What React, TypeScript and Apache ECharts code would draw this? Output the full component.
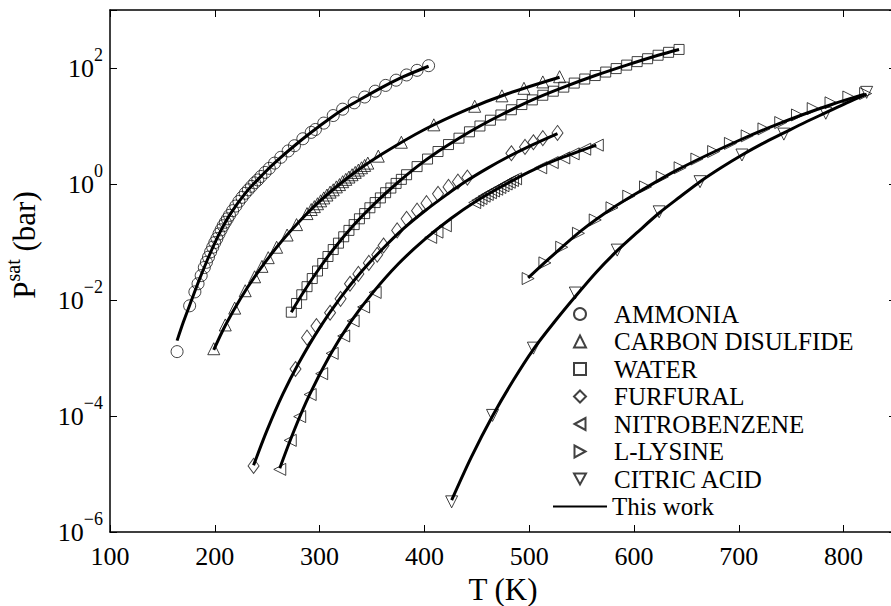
import React, { useEffect, useRef } from 'react';
import * as echarts from 'echarts';

// Read-off values: [T (K), log10(Psat / bar)]
const ammoniaExp = [[164,-2.89],[176,-2.10],[181,-1.86],[184,-1.72],[187,-1.58],[190,-1.44],[192,-1.35],[194,-1.26],[196,-1.17],[198,-1.09],[200,-1.01],[202,-0.94],[204,-0.86],[206,-0.79],[208,-0.72],[210,-0.66],[212,-0.60],[214,-0.54],[217,-0.46],[220,-0.38],[223,-0.30],[226,-0.23],[229,-0.16],[232,-0.10],[235,-0.04],[238,0.02],[241,0.07],[244,0.13],[248,0.20],[252,0.27],[257,0.36],[263,0.46],[270,0.57],[276,0.66],[284,0.78],[292,0.89],[296,0.94],[304,1.05],[313,1.18],[322,1.29],[333,1.40],[343,1.50],[353,1.60],[363,1.70],[373,1.79],[383,1.88],[393,1.96],[404,2.04]];
const ammoniaFit = [[164,-2.70],[170,-2.38],[176,-2.09],[185,-1.66],[195,-1.22],[205,-0.83],[215,-0.51],[230,-0.14],[245,0.15],[260,0.41],[280,0.72],[300,1.00],[320,1.26],[340,1.47],[360,1.67],[380,1.85],[404,2.03]];

const cs2Exp = [[199,-2.84],[210,-2.43],[219,-2.14],[229,-1.84],[238,-1.60],[245,-1.42],[251,-1.27],[259,-1.09],[269,-0.88],[278,-0.70],[288,-0.51],[292,-0.44],[295,-0.39],[298,-0.34],[301,-0.29],[304,-0.24],[307,-0.19],[310,-0.14],[313,-0.10],[316,-0.05],[319,-0.01],[322,0.04],[325,0.08],[328,0.12],[331,0.16],[334,0.20],[337,0.24],[340,0.28],[343,0.32],[346,0.36],[356,0.48],[378,0.72],[409,1.02],[448,1.34],[474,1.52],[495,1.65],[513,1.76],[529,1.85]];
const cs2Fit = [[199,-2.86],[210,-2.44],[225,-1.96],[240,-1.55],[260,-1.07],[280,-0.66],[300,-0.30],[330,0.15],[360,0.52],[400,0.94],[440,1.28],[480,1.56],[529,1.84]];

const waterExp = [[273,-2.21],[278,-2.06],[283,-1.91],[288,-1.77],[293,-1.63],[298,-1.50],[303,-1.37],[308,-1.25],[313,-1.13],[318,-1.02],[323,-0.91],[328,-0.80],[333,-0.70],[338,-0.60],[343,-0.51],[348,-0.41],[353,-0.32],[358,-0.24],[363,-0.15],[368,-0.07],[373,0.01],[378,0.08],[383,0.16],[393,0.30],[403,0.43],[413,0.56],[423,0.68],[433,0.79],[443,0.90],[453,1.00],[463,1.10],[473,1.19],[483,1.28],[493,1.37],[503,1.45],[513,1.53],[523,1.60],[533,1.67],[543,1.74],[553,1.81],[563,1.87],[573,1.93],[583,1.99],[593,2.05],[603,2.11],[613,2.16],[623,2.22],[633,2.27],[643,2.32]];
const waterFit = [[273,-2.21],[283,-1.91],[298,-1.50],[313,-1.13],[333,-0.70],[353,-0.33],[373,0.00],[393,0.30],[413,0.56],[433,0.79],[453,1.00],[473,1.19],[503,1.45],[533,1.67],[563,1.87],[593,2.05],[623,2.22],[643,2.32]];

const furfuralExp = [[237,-4.86],[277,-3.19],[288,-2.65],[297,-2.45],[310,-2.22],[320,-1.98],[329,-1.72],[337,-1.55],[347,-1.36],[355,-1.22],[361,-1.06],[374,-0.80],[383,-0.60],[393,-0.46],[402,-0.33],[413,-0.17],[423,-0.05],[432,0.04],[441,0.11],[483,0.53],[496,0.64],[504,0.72],[513,0.79],[527,0.88]];
const furfuralFit = [[237,-4.85],[250,-4.24],[265,-3.62],[280,-3.09],[300,-2.48],[320,-1.96],[340,-1.51],[360,-1.12],[380,-0.77],[400,-0.47],[420,-0.20],[440,0.05],[460,0.27],[480,0.47],[500,0.65],[527,0.87]];

const nitroExp = [[262,-4.92],[272,-4.42],[281,-4.01],[291,-3.63],[302,-3.27],[312,-2.92],[323,-2.62],[332,-2.36],[342,-2.12],[353,-1.87],[406,-0.92],[412,-0.83],[420,-0.72],[448,-0.32],[451,-0.28],[454,-0.25],[457,-0.21],[460,-0.18],[463,-0.15],[466,-0.12],[469,-0.09],[472,-0.06],[475,-0.03],[478,0.00],[481,0.03],[484,0.06],[487,0.09],[511,0.28],[522,0.37],[533,0.45],[542,0.52],[553,0.60],[565,0.67]];
const nitroFit = [[262,-4.90],[275,-4.28],[290,-3.65],[310,-2.95],[330,-2.37],[350,-1.89],[375,-1.38],[400,-0.96],[425,-0.60],[450,-0.29],[475,-0.03],[500,0.21],[525,0.41],[564,0.67]];

const lysineExp = [[499,-1.63],[515,-1.36],[531,-1.09],[547,-0.85],[563,-0.62],[579,-0.41],[595,-0.21],[611,-0.05],[627,0.12],[644,0.28],[660,0.43],[676,0.56],[692,0.70],[708,0.83],[724,0.95],[740,1.06],[756,1.19],[771,1.30],[788,1.40],[805,1.50],[821,1.56]];
const lysineFit = [[499,-1.62],[520,-1.27],[550,-0.80],[580,-0.41],[610,-0.08],[640,0.23],[670,0.50],[700,0.75],[730,0.98],[760,1.19],[790,1.38],[820,1.55]];

const citricExp = [[426,-5.48],[465,-3.99],[504,-2.83],[544,-1.88],[584,-1.14],[624,-0.48],[663,0.04],[703,0.50],[743,0.86],[783,1.22],[822,1.58]];
const citricFit = [[426,-5.45],[445,-4.70],[465,-4.00],[485,-3.38],[504,-2.85],[524,-2.38],[544,-1.94],[564,-1.52],[584,-1.15],[604,-0.82],[624,-0.50],[644,-0.22],[663,0.04],[683,0.28],[703,0.50],[723,0.70],[743,0.88],[763,1.06],[783,1.23],[803,1.40],[822,1.55]];

const names = ['AMMONIA', 'CARBON DISULFIDE', 'WATER', 'FURFURAL', 'NITROBENZENE', 'L-LYSINE', 'CITRIC ACID'];
const legendIcons = ['circle', 'triangle', 'rect', 'diamond', 'path://M0,6L11,0L11,12Z', 'path://M11,6L0,0L0,12Z', 'path://M0,0L12,0L6,11Z'];
const fitName = 'This work';

const FONT = 'Liberation Serif';

const toPts = (arr: number[][]) => arr.map(([t, l]) => [t, Math.pow(10, l)]);

export default function App() {
  const ref = useRef<HTMLDivElement>(null);
  useEffect(() => {
    if (!ref.current) return;
    const chart = echarts.init(ref.current, undefined, { renderer: 'svg' });

    const expSets = [ammoniaExp, cs2Exp, waterExp, furfuralExp, nitroExp, lysineExp, citricExp];
    const fitSets = [ammoniaFit, cs2Fit, waterFit, furfuralFit, nitroFit, lysineFit, citricFit];
    const markers: any[] = [
      { symbol: 'circle', size: 12, rot: 0 },
      { symbol: 'triangle', size: 12, rot: 0 },
      { symbol: 'rect', size: 10, rot: 0 },
      { symbol: 'diamond', size: [11, 15], rot: 0 },
      { symbol: 'triangle', size: 12, rot: 90 },
      { symbol: 'triangle', size: 12, rot: -90 },
      { symbol: 'triangle', size: 12, rot: 180 },
    ];

    const series: any[] = [];
    expSets.forEach((d, i) => {
      series.push({
        name: names[i],
        type: 'scatter',
        data: toPts(d),
        symbol: markers[i].symbol,
        symbolSize: markers[i].size,
        symbolRotate: markers[i].rot,
        itemStyle: { color: 'rgba(255,255,255,0)', borderColor: '#111', borderWidth: 1 },
        z: 2,
        silent: true,
      });
    });
    fitSets.forEach((d) => {
      series.push({
        name: fitName,
        type: 'line',
        data: toPts(d),
        symbol: 'none',
        showSymbol: false,
        smooth: 0.3,
        lineStyle: { color: '#000', width: 3 },
        itemStyle: { color: 'rgba(0,0,0,0)', borderColor: 'rgba(0,0,0,0)' },
        z: 3,
        silent: true,
      });
    });

    const axisLine = { show: true, onZero: false, lineStyle: { color: '#000', width: 1.5 } };
    const axisTick = { show: true, inside: true, length: 7, lineStyle: { color: '#000', width: 1 } };

    const yLabelFmt = (v: number) => {
      const e = Math.round(Math.log10(v));
      if (e % 2 !== 0) return '';
      const s = e < 0 ? '\u2212' + -e : String(e);
      return `{b|10}{s|${s}}`;
    };

    const legendText = { fontFamily: FONT, fontSize: 25, color: '#000', lineHeight: 25 };

    const option: any = {
      animation: false,
      backgroundColor: '#fff',
      grid: { left: 110, right: -5, top: 10, bottom: 74, outerBoundsMode: 'none' },
      legend: [
        {
          orient: 'vertical',
          left: 573,
          top: 301.5,
          padding: 0,
          itemWidth: 12,
          itemHeight: 12,
          itemGap: 2.5,
          selectedMode: false,
          data: names.map((n, i) => ({ name: n, icon: legendIcons[i] })),
          textStyle: { ...legendText, padding: [0, 0, 0, 23] },
        },
        {
          orient: 'vertical',
          left: 552,
          top: 494,
          padding: 0,
          itemWidth: 54,
          itemHeight: 12,
          selectedMode: false,
          data: [{ name: fitName, itemStyle: { opacity: 0 } }],
          textStyle: legendText,
        },
      ],
      xAxis: [
        {
          type: 'value', min: 100, max: 850, interval: 100, position: 'bottom',
          axisLine, axisTick, splitLine: { show: false },
          axisLabel: {
            fontFamily: FONT, fontSize: 26, color: '#000', margin: 11,
            formatter: (v: number) => (v % 100 === 0 && v <= 800 ? String(v) : ''),
          },
          name: 'T (K)', nameLocation: 'middle', nameGap: 34,
          nameTextStyle: { fontFamily: FONT, fontSize: 31, color: '#000' },
        },
        {
          type: 'value', min: 100, max: 850, interval: 100, position: 'top',
          axisLine, axisTick, splitLine: { show: false }, axisLabel: { show: false },
        },
      ],
      yAxis: [
        {
          type: 'log', logBase: 100, min: 1e-6, max: 1e3, position: 'left',
          axisLine, axisTick, splitLine: { show: false }, minorTick: { show: false },
          axisLabel: {
            margin: 7, formatter: yLabelFmt,
            rich: {
              b: { fontFamily: FONT, fontSize: 26, color: '#000', lineHeight: 26 },
              s: { fontFamily: FONT, fontSize: 18, color: '#000', lineHeight: 18, padding: [0, 0, 27, 0] },
            },
          },
          name: '{p|P}{s|sat}{u|\u00a0(bar)}', nameLocation: 'middle', nameGap: 48,
          nameTextStyle: {
            padding: [0, 0, 0, 52],
            rich: {
              p: { fontFamily: FONT, fontSize: 31, color: '#000', lineHeight: 31 },
              s: { fontFamily: FONT, fontSize: 20, color: '#000', lineHeight: 20, padding: [0, 0, 24, 0] },
              u: { fontFamily: FONT, fontSize: 31, color: '#000', lineHeight: 31 },
            },
          },
        },
        {
          type: 'log', logBase: 100, min: 1e-6, max: 1e3, position: 'right',
          axisLine, axisTick, splitLine: { show: false }, minorTick: { show: false },
          axisLabel: { show: false },
        },
      ],
      series,
    };
    chart.setOption(option);
    return () => chart.dispose();
  }, []);

  return (
    <div
      ref={ref}
      style={{ position: 'absolute', left: 0, top: 0, width: 891, height: 606, background: '#fff' }}
    />
  );
}
